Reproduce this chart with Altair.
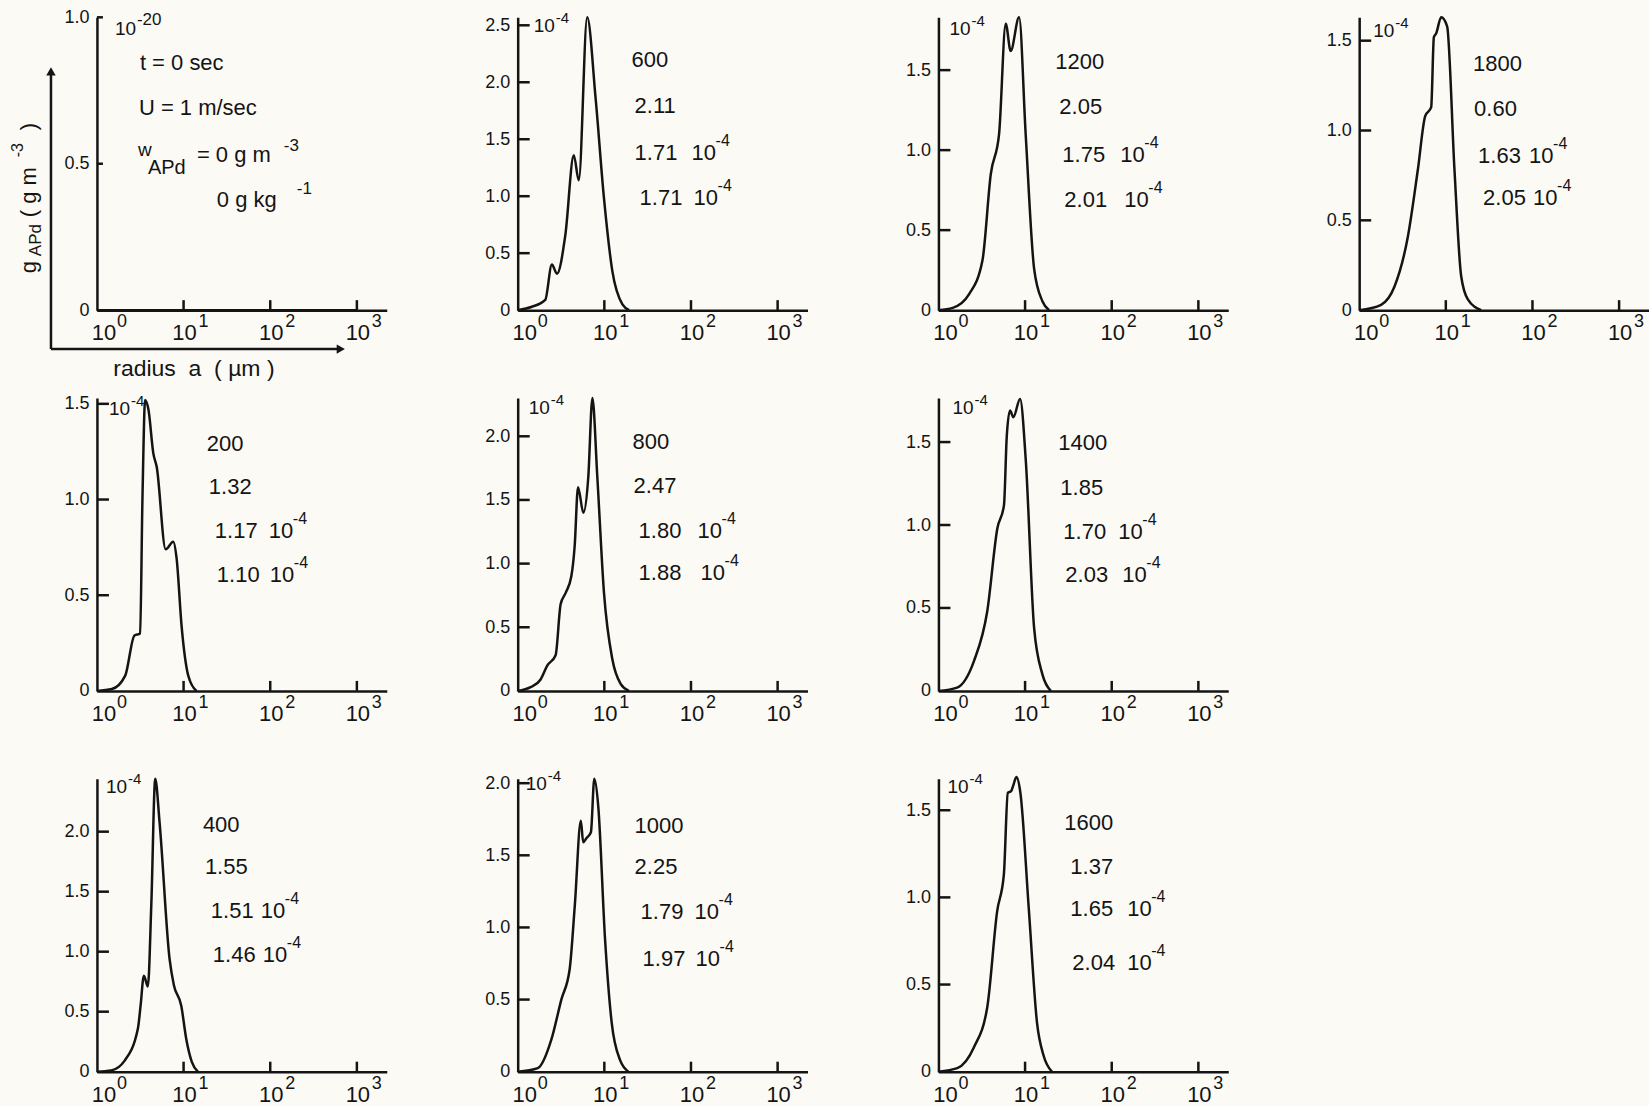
import altair as alt
import pandas as pd

# ---------------- data (radius in micrometres, g_APd in units of the panel's scale) ----------------
R0 = [1.0, 1000.0]
G0 = [0.0, 0.0]

R200 = [1.0, 1.49, 2.12, 2.71, 3.15, 3.35, 3.60, 3.93, 4.48, 4.90, 6.21, 7.60, 8.32, 9.48, 11.32, 14.09]
G200 = [0, 0.01, 0.08, 0.29, 0.30, 1.0, 1.52, 1.47, 1.24, 1.17, 0.74, 0.78, 0.69, 0.34, 0.08, 0]

R400 = [1.0, 1.46, 2.08, 2.97, 3.19, 3.48, 3.87, 4.24, 4.71, 5.28, 6.89, 7.73, 9.40, 10.72, 12.47, 14.62]
G400 = [0, 0.01, 0.09, 0.36, 0.55, 0.80, 0.71, 1.39, 2.44, 2.08, 0.94, 0.72, 0.55, 0.275, 0.08, 0]

R600 = [1.0, 1.46, 2.08, 2.48, 2.84, 3.55, 4.44, 5.07, 6.34, 7.93, 9.91, 12.39, 16.18, 19.36]
G600 = [0, 0.03, 0.09, 0.40, 0.32, 0.66, 1.36, 1.14, 2.57, 1.86, 0.98, 0.34, 0.05, 0]

R800 = [1.0, 1.41, 1.84, 2.20, 2.74, 3.13, 3.58, 4.16, 4.55, 4.97, 5.73, 6.53, 7.28, 8.30, 9.91, 12.36, 15.42, 19.23]
G800 = [0, 0.03, 0.09, 0.20, 0.28, 0.68, 0.77, 0.90, 1.14, 1.60, 1.40, 1.68, 2.30, 1.68, 0.77, 0.25, 0.055, 0]

R1000 = [1.0, 1.71, 2.44, 3.19, 3.98, 4.56, 5.36, 5.70, 6.24, 7.00, 7.66, 8.51, 10.19, 12.16, 15.21, 19.01]
G1000 = [0, 0.025, 0.22, 0.50, 0.71, 1.15, 1.74, 1.59, 1.62, 1.66, 2.03, 1.84, 0.92, 0.34, 0.08, 0]

R1200 = [1.0, 1.46, 2.26, 3.22, 4.02, 5.01, 5.98, 6.82, 8.53, 10.16, 12.71, 15.85, 18.92]
G1200 = [0, 0.014, 0.10, 0.31, 0.85, 1.10, 1.79, 1.62, 1.83, 1.10, 0.26, 0.056, 0]

R1400 = [1.0, 1.64, 2.57, 3.66, 4.79, 5.71, 6.14, 6.70, 7.33, 8.75, 10.19, 12.71, 15.85, 19.82]
G1400 = [0, 0.02, 0.18, 0.48, 0.98, 1.12, 1.53, 1.69, 1.65, 1.76, 1.39, 0.38, 0.10, 0]

R1600 = [1.0, 1.65, 2.57, 3.66, 4.76, 5.69, 6.32, 6.90, 7.28, 7.94, 8.83, 11.02, 13.74, 16.41, 20.42]
G1600 = [0, 0.02, 0.14, 0.37, 0.92, 1.13, 1.60, 1.61, 1.64, 1.69, 1.60, 0.94, 0.28, 0.09, 0]

R1800 = [1.0, 1.79, 2.55, 3.65, 4.75, 5.78, 6.78, 7.28, 7.73, 8.83, 10.35, 12.59, 15.03, 17.95, 25.59]
G1800 = [0, 0.03, 0.13, 0.41, 0.78, 1.08, 1.13, 1.52, 1.54, 1.63, 1.58, 0.78, 0.19, 0.06, 0]

# axis tops and ticks of each panel
YMAX = {0: 1.0, 200: 1.53, 400: 2.44, 600: 2.57, 800: 2.30, 1000: 2.03,
        1200: 1.83, 1400: 1.765, 1600: 1.68, 1800: 1.63}
YTICKS = {0: [0, 0.5, 1.0], 200: [0, 0.5, 1.0, 1.5], 400: [0, 0.5, 1.0, 1.5, 2.0],
          600: [0, 0.5, 1.0, 1.5, 2.0, 2.5], 800: [0, 0.5, 1.0, 1.5, 2.0],
          1000: [0, 0.5, 1.0, 1.5, 2.0], 1200: [0, 0.5, 1.0, 1.5], 1400: [0, 0.5, 1.0, 1.5],
          1600: [0, 0.5, 1.0, 1.5], 1800: [0, 0.5, 1.0, 1.5]}
XTICKS = [1, 10, 100, 1000]
XEXP = ["0", "1", "2", "3"]

# annotation texts: time, second value, third value (x10^-4), fourth value (x10^-4)
TEXTS = {200: ["200", "1.32", "1.17", "1.10"], 400: ["400", "1.55", "1.51", "1.46"],
         600: ["600", "2.11", "1.71", "1.71"], 800: ["800", "2.47", "1.80", "1.88"],
         1000: ["1000", "2.25", "1.79", "1.97"], 1200: ["1200", "2.05", "1.75", "2.01"],
         1400: ["1400", "1.85", "1.70", "2.03"], 1600: ["1600", "1.37", "1.65", "2.04"],
         1800: ["1800", "0.60", "1.63", "2.05"]}
SCALE_EXP = "-4"

CURVES = {0: (R0, G0), 200: (R200, G200), 400: (R400, G400), 600: (R600, G600),
          800: (R800, G800), 1000: (R1000, G1000), 1200: (R1200, G1200),
          1400: (R1400, G1400), 1600: (R1600, G1600), 1800: (R1800, G1800)}

# ---------------- layout (pixel offsets inside each panel) ----------------
LAYOUT = {
    600: [(114, 50), (117, 96), (117, 143, 174), (122, 188, 176), (16, 15)],
    1200: [(117, 52), (121, 97), (124, 145, 182), (126, 190, 186), (11, 18)],
    1800: [(114, 54), (115, 99), (119, 146, 170), (124, 188, 174), (14, 20)],
    200: [(110, 53), (112, 96), (118, 140, 172), (120, 184, 173), (12, 17)],
    800: [(115, 51), (116, 95), (121, 140, 180), (121, 182, 183), (11, 16)],
    1400: [(120, 52), (122, 97), (125, 141, 180), (127, 184, 184), (14, 16)],
    400: [(106, 53), (108, 95), (114, 139, 164), (116, 183, 166), (9, 14)],
    1000: [(117, 54), (117, 95), (123, 140, 177), (125, 187, 178), (8, 11)],
    1600: [(126, 51), (132, 95), (132, 137, 189), (134, 191, 189), (9, 14)],
}

INK = "#141414"
BG = "#fbfaf5"
FONT = "Liberation Sans"
W, H = 290, 293
XMAX = 2213
LW = 2.5
ONE = pd.DataFrame({"k": [0]})


def xenc(field):
    return alt.X(field, type="quantitative",
                 scale=alt.Scale(type="log", domain=[1, XMAX], nice=False),
                 axis=alt.Axis(labels=False, ticks=False, grid=False, title=None,
                               domainColor=INK, domainWidth=LW))


def yenc(field, ymax, yt):
    return alt.Y(field, type="quantitative",
                 scale=alt.Scale(domain=[0, ymax], nice=False, zero=True),
                 axis=alt.Axis(values=yt, ticks=False, grid=False, title=None,
                               labelExpr="datum.value == 0 ? '0' : format(datum.value, '.1f')",
                               domainColor=INK, domainWidth=LW, labelFont=FONT,
                               labelFontSize=18, labelColor=INK, labelPadding=8,
                               labelFlush=False, labelOverlap=False, labelBaseline="middle"))


def ptext(s, x, y, size, angle=0, align="left"):
    return alt.Chart(ONE).mark_text(text=s, font=FONT, fontSize=size, color=INK, align=align,
                                    baseline="alphabetic", angle=angle).encode(
        x=alt.value(x), y=alt.value(y))


def panel(t):
    r, g = CURVES[t]
    ymax, yt = YMAX[t], YTICKS[t]
    layers = []
    layers.append(alt.Chart(pd.DataFrame({"r": r, "g": g})).mark_line(
        color=INK, strokeWidth=2.5, interpolate="monotone").encode(
        x=xenc("r"), y=yenc("g", ymax, yt)))
    xt = pd.DataFrame({"v": XTICKS, "e": XEXP})
    layers.append(alt.Chart(xt).transform_filter("datum.v > 1").mark_rule(
        color=INK, strokeWidth=LW).encode(x=xenc("v"), y=alt.value(H), y2=alt.value(H - 10)))
    tick_len = 6 if t == 0 else 12
    layers.append(alt.Chart(pd.DataFrame({"v": [v for v in yt if v > 0]})).mark_rule(
        color=INK, strokeWidth=LW).encode(y=yenc("v", ymax, yt), x=alt.value(0),
                                          x2=alt.value(tick_len)))
    # x tick labels 10^n
    for cond, dx_base, dx_exp in (("datum.v == 1", 7, 25), ("datum.v > 1", 1, 20)):
        layers.append(alt.Chart(xt).transform_filter(cond).mark_text(
            text="10", font=FONT, fontSize=22, color=INK, dx=dx_base, baseline="alphabetic").encode(
            x=xenc("v"), y=alt.value(H + 30)))
        layers.append(alt.Chart(xt).transform_filter(cond).mark_text(
            font=FONT, fontSize=18, color=INK, dx=dx_exp, baseline="alphabetic").encode(
            x=xenc("v"), y=alt.value(H + 17), text="e:N"))
    if t == 0:
        layers += [
            ptext("10", 18, 18, 19), ptext("-20", 40, 8, 17),
            ptext("t = 0 sec", 43, 53, 22),
            ptext("U = 1 m/sec", 42, 98, 22),
            ptext("w", 41, 139, 19), ptext("APd", 51, 157, 20),
            ptext("= 0 g m", 100, 145, 22), ptext("-3", 187, 134, 17),
            ptext("0 g kg", 120, 190, 22), ptext("-1", 200, 177, 17),
            ptext("radius\u00a0 a\u00a0 (\u00a0µm\u00a0)", 97, 359, 23, align="center"),
            ptext("g", -61, 256, 22, angle=270), ptext("APd", -56, 239, 17, angle=270),
            ptext("(\u00a0g\u00a0m", -61, 200, 22, angle=270), ptext("-3", -74, 140, 16, angle=270),
            ptext(")", -61, 113, 22, angle=270),
        ]
        layers.append(alt.Chart(ONE).mark_rule(color=INK, strokeWidth=LW).encode(
            x=alt.value(-46), y=alt.value(54), y2=alt.value(332)))
        layers.append(alt.Chart(ONE).mark_rule(color=INK, strokeWidth=LW).encode(
            x=alt.value(-46), x2=alt.value(243), y=alt.value(332)))
        layers.append(alt.Chart(ONE).mark_point(shape="triangle-up", filled=True, size=90,
                                                color=INK, opacity=1).encode(
            x=alt.value(-46), y=alt.value(54)))
        layers.append(alt.Chart(ONE).mark_point(shape="triangle-right", filled=True, size=90,
                                                color=INK, opacity=1).encode(
            x=alt.value(244), y=alt.value(332)))
    else:
        txt = TEXTS[t]
        lay = LAYOUT[t]
        layers.append(ptext(txt[0], lay[0][0], lay[0][1], 22))
        layers.append(ptext(txt[1], lay[1][0], lay[1][1], 22))
        for i in (2, 3):
            xn, yb, xten = lay[i]
            layers.append(ptext(txt[i], xn, yb, 22))
            layers.append(ptext("10", xten, yb, 22))
            layers.append(ptext(SCALE_EXP, xten + 24, yb - 14, 16))
        cx, cb = lay[4]
        layers.append(ptext("10", cx, cb, 19))
        layers.append(ptext(SCALE_EXP, cx + 22, cb - 9, 15))
    return alt.layer(*layers).properties(width=W, height=H)


def blank():
    return alt.Chart(ONE).mark_point(opacity=0).encode(
        x=alt.value(0), y=alt.value(0)).properties(width=W, height=H)


cells = [panel(0), panel(600), panel(1200), panel(1800),
         panel(200), panel(800), panel(1400), blank(),
         panel(400), panel(1000), panel(1600)]

chart = alt.concat(*cells, columns=4, spacing={"row": 88, "column": 131}, bounds="flush").properties(
    padding={"left": 10, "top": 8, "right": 0, "bottom": 0},
    background=BG,
).configure_view(stroke=None)

chart.save("out.html", embed_options={"renderer": "svg", "actions": False})
